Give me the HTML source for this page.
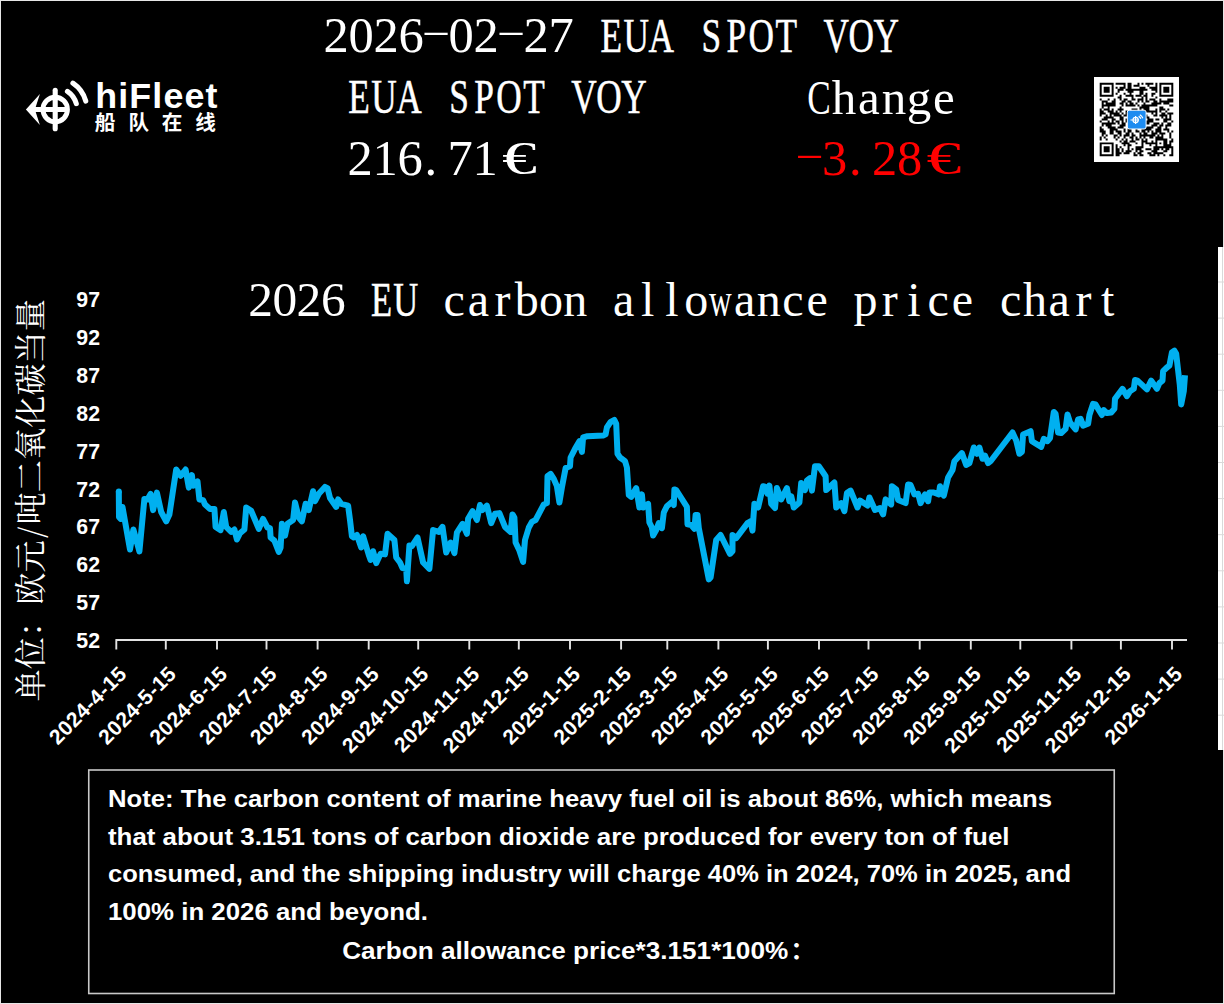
<!DOCTYPE html>
<html lang="en"><head><meta charset="utf-8"><title>EUA SPOT VOY - EU carbon allowance price chart</title>
<style>
html,body{margin:0;padding:0;background:#000;}
body{width:1224px;height:1004px;overflow:hidden;position:relative;}
svg{position:absolute;left:0;top:0;display:block;}
.sf{font-family:"Liberation Serif","Noto Serif CJK SC",serif;fill:#fff;}
.ss{font-family:"Liberation Sans","Noto Sans CJK SC",sans-serif;font-weight:bold;fill:#fff;}
.cj{font-family:"Noto Serif CJK SC","Liberation Serif",serif;fill:#fff;}
.cs{font-family:"Noto Sans CJK SC","Liberation Sans",sans-serif;font-weight:bold;fill:#fff;}
</style></head>
<body>
<svg width="1224" height="1004" viewBox="0 0 1224 1004">
<rect x="0" y="0" width="1224" height="1004" fill="#000"/>

<!-- frame -->
<path d="M0 0.5H1224M0.5 0V1004M0 1003.5H1224M1223.5 0V1004" stroke="#e6e6e6" stroke-width="1" fill="none"/>
<rect x="1218" y="247" width="6" height="503" fill="#fff"/>
<path d="M1218 282.0H1224M1218 318.1H1224M1218 354.2H1224M1218 390.3H1224M1218 426.4H1224M1218 462.5H1224M1218 498.6H1224M1218 534.7H1224M1218 570.8H1224M1218 606.9H1224M1218 643.0H1224M1218 679.1H1224M1218 715.2H1224M1222.5 247V750" stroke="#d9d9d9" stroke-width="1" fill="none"/>
<!-- header text -->
<text class="sf" font-size="50.5" y="52"><tspan x="323.6 348.6 373.6 398.6" y="52">2026</tspan><tspan x="421.4" y="41.4" font-size="30" textLength="29.6" lengthAdjust="spacingAndGlyphs">-</tspan><tspan x="448.6 473.6" y="52">02</tspan><tspan x="496.4" y="41.4" font-size="30" textLength="29.6" lengthAdjust="spacingAndGlyphs">-</tspan><tspan x="523.6 548.6" y="52">27</tspan></text>
<text class="sf" font-size="49" x="834.0 866.0 900.7" y="52" transform="scale(0.72,1)" stroke="#fff" stroke-width="0.45" vector-effect="non-scaling-stroke">EUA</text>
<text class="sf" font-size="49" x="974.2 1008.9 1039.6 1077.0" y="52" transform="scale(0.72,1)" stroke="#fff" stroke-width="0.45" vector-effect="non-scaling-stroke">SPOT</text>
<text class="sf" font-size="49" x="1143.8 1178.5 1213.2" y="52" transform="scale(0.72,1)" stroke="#fff" stroke-width="0.45" vector-effect="non-scaling-stroke">VOY</text>
<text class="sf" font-size="49" x="483.6 515.6 550.4" y="113.5" transform="scale(0.72,1)" stroke="#fff" stroke-width="0.45" vector-effect="non-scaling-stroke">EUA</text>
<text class="sf" font-size="49" x="623.9 658.6 689.3 726.7" y="113.5" transform="scale(0.72,1)" stroke="#fff" stroke-width="0.45" vector-effect="non-scaling-stroke">SPOT</text>
<text class="sf" font-size="49" x="793.4 828.1 862.9" y="113.5" transform="scale(0.72,1)" stroke="#fff" stroke-width="0.45" vector-effect="non-scaling-stroke">VOY</text>
<text class="sf" font-size="49" y="113.5"><tspan x="807.2" y="113.5" textLength="23.5" lengthAdjust="spacingAndGlyphs">C</tspan><tspan x="831.8 858.1 881.8 906.8 933.1" y="113.5">hange</tspan></text>
<text class="sf" font-size="50.5" y="175"><tspan x="347.4 372.4 397.4 424.5 447.4 472.4" y="175">216.71</tspan><tspan x="502.1" y="174.3" font-size="46.5" textLength="34.9" lengthAdjust="spacingAndGlyphs">€</tspan></text>
<text class="sf" font-size="50.5" y="175" style="fill:#ff0000"><tspan x="794.7" y="164.4" font-size="30" textLength="29.6" lengthAdjust="spacingAndGlyphs">-</tspan><tspan x="821.9 849.0 871.9 896.9" y="175">3.28</tspan><tspan x="926.6" y="174.3" font-size="46.5" textLength="34.9" lengthAdjust="spacingAndGlyphs">€</tspan></text>
<!-- chart title -->
<text class="sf" font-size="49.4" x="248.2 272.4 296.6 320.9" y="316">2026</text>
<text class="sf" font-size="48" x="515.3 546.3" y="316" transform="scale(0.72,1)" stroke="#fff" stroke-width="0.45" vector-effect="non-scaling-stroke">EU</text>
<text class="sf" font-size="48" x="443.5 467.7 494.6 514.8 539.0 563.2" y="316">carbon</text>
<text class="sf" font-size="48" y="316"><tspan x="612.9 641.1 665.3 684.2" y="316">allo</tspan><tspan x="709.0" y="316" textLength="22.7" lengthAdjust="spacingAndGlyphs">w</tspan><tspan x="733.9 756.8 782.3 806.5" y="316">ance</tspan></text>
<text class="sf" font-size="48" x="853.6 881.8 907.3 927.5 951.7" y="316">price</text>
<text class="sf" font-size="48" x="1000.1 1023.0 1048.5 1075.4 1100.9" y="316">chart</text>
<text class="cj" font-size="32.2" transform="translate(41.7,701.4) rotate(-90)" x="0.0 32.2 64.4 96.6 128.8 163.3 177.0 209.2 241.4 273.6 305.8 338.0 370.2" y="0">单位：欧元/吨二氧化碳当量</text>
<!-- y axis labels -->
<text class="ss" font-size="21.3" text-anchor="end" x="100" y="307.0">97</text>
<text class="ss" font-size="21.3" text-anchor="end" x="100" y="344.9">92</text>
<text class="ss" font-size="21.3" text-anchor="end" x="100" y="382.8">87</text>
<text class="ss" font-size="21.3" text-anchor="end" x="100" y="420.7">82</text>
<text class="ss" font-size="21.3" text-anchor="end" x="100" y="458.6">77</text>
<text class="ss" font-size="21.3" text-anchor="end" x="100" y="496.5">72</text>
<text class="ss" font-size="21.3" text-anchor="end" x="100" y="534.4">67</text>
<text class="ss" font-size="21.3" text-anchor="end" x="100" y="572.3">62</text>
<text class="ss" font-size="21.3" text-anchor="end" x="100" y="610.2">57</text>
<text class="ss" font-size="21.3" text-anchor="end" x="100" y="648.1">52</text>
<path d="M115.4 640H1187M116.3 640V649.6M165.8 640V649.6M217.0 640V649.6M266.5 640V649.6M317.6 640V649.6M368.7 640V649.6M418.2 640V649.6M469.3 640V649.6M518.8 640V649.6M570.0 640V649.6M621.1 640V649.6M667.3 640V649.6M718.4 640V649.6M767.9 640V649.6M819.0 640V649.6M868.5 640V649.6M919.7 640V649.6M970.8 640V649.6M1020.3 640V649.6M1071.4 640V649.6M1120.9 640V649.6M1172.0 640V649.6" stroke="#e2e2e2" stroke-width="1.9" fill="none"/>
<!-- x axis labels -->
<text class="ss" font-size="21" text-anchor="end" letter-spacing="0.45" transform="translate(128.2,675.2) rotate(-45)" x="0" y="0">2024-4-15</text>
<text class="ss" font-size="21" text-anchor="end" letter-spacing="0.45" transform="translate(177.6,675.2) rotate(-45)" x="0" y="0">2024-5-15</text>
<text class="ss" font-size="21" text-anchor="end" letter-spacing="0.45" transform="translate(228.8,675.2) rotate(-45)" x="0" y="0">2024-6-15</text>
<text class="ss" font-size="21" text-anchor="end" letter-spacing="0.45" transform="translate(278.3,675.2) rotate(-45)" x="0" y="0">2024-7-15</text>
<text class="ss" font-size="21" text-anchor="end" letter-spacing="0.45" transform="translate(329.4,675.2) rotate(-45)" x="0" y="0">2024-8-15</text>
<text class="ss" font-size="21" text-anchor="end" letter-spacing="0.45" transform="translate(380.5,675.2) rotate(-45)" x="0" y="0">2024-9-15</text>
<text class="ss" font-size="21" text-anchor="end" letter-spacing="0.45" transform="translate(430.0,675.2) rotate(-45)" x="0" y="0">2024-10-15</text>
<text class="ss" font-size="21" text-anchor="end" letter-spacing="0.45" transform="translate(481.1,675.2) rotate(-45)" x="0" y="0">2024-11-15</text>
<text class="ss" font-size="21" text-anchor="end" letter-spacing="0.45" transform="translate(530.6,675.2) rotate(-45)" x="0" y="0">2024-12-15</text>
<text class="ss" font-size="21" text-anchor="end" letter-spacing="0.45" transform="translate(581.8,675.2) rotate(-45)" x="0" y="0">2025-1-15</text>
<text class="ss" font-size="21" text-anchor="end" letter-spacing="0.45" transform="translate(632.9,675.2) rotate(-45)" x="0" y="0">2025-2-15</text>
<text class="ss" font-size="21" text-anchor="end" letter-spacing="0.45" transform="translate(679.1,675.2) rotate(-45)" x="0" y="0">2025-3-15</text>
<text class="ss" font-size="21" text-anchor="end" letter-spacing="0.45" transform="translate(730.2,675.2) rotate(-45)" x="0" y="0">2025-4-15</text>
<text class="ss" font-size="21" text-anchor="end" letter-spacing="0.45" transform="translate(779.7,675.2) rotate(-45)" x="0" y="0">2025-5-15</text>
<text class="ss" font-size="21" text-anchor="end" letter-spacing="0.45" transform="translate(830.8,675.2) rotate(-45)" x="0" y="0">2025-6-15</text>
<text class="ss" font-size="21" text-anchor="end" letter-spacing="0.45" transform="translate(880.3,675.2) rotate(-45)" x="0" y="0">2025-7-15</text>
<text class="ss" font-size="21" text-anchor="end" letter-spacing="0.45" transform="translate(931.5,675.2) rotate(-45)" x="0" y="0">2025-8-15</text>
<text class="ss" font-size="21" text-anchor="end" letter-spacing="0.45" transform="translate(982.6,675.2) rotate(-45)" x="0" y="0">2025-9-15</text>
<text class="ss" font-size="21" text-anchor="end" letter-spacing="0.45" transform="translate(1032.1,675.2) rotate(-45)" x="0" y="0">2025-10-15</text>
<text class="ss" font-size="21" text-anchor="end" letter-spacing="0.45" transform="translate(1083.2,675.2) rotate(-45)" x="0" y="0">2025-11-15</text>
<text class="ss" font-size="21" text-anchor="end" letter-spacing="0.45" transform="translate(1132.7,675.2) rotate(-45)" x="0" y="0">2025-12-15</text>
<text class="ss" font-size="21" text-anchor="end" letter-spacing="0.45" transform="translate(1183.8,675.2) rotate(-45)" x="0" y="0">2026-1-15</text>
<!-- series -->
<polyline points="118.8,491.4 119.0,517.0 120.6,518.9 122.5,507.0 130.0,549.5 133.4,529.5 139.4,551.4 144.4,498.9 147.5,499.5 150.6,493.9 153.1,510.1 156.9,492.6 161.2,512.0 166.2,521.4 169.4,514.5 176.2,469.5 180.6,475.8 185.6,469.5 188.8,487.6 191.9,475.1 193.1,485.8 197.5,481.4 199.4,499.5 203.1,500.1 205.0,504.5 210.0,508.9 214.4,508.9 215.6,527.0 220.6,530.1 223.8,512.0 226.2,527.0 231.2,532.0 234.4,529.5 236.9,539.5 240.0,533.2 244.4,529.5 246.2,507.6 251.2,510.8 258.8,528.9 263.0,518.9 267.5,527.5 270.0,528.1 270.6,537.5 274.4,540.6 278.8,551.9 280.6,547.5 281.9,523.8 285.0,535.6 287.5,523.8 293.1,520.0 295.0,502.5 298.8,517.5 301.9,521.2 305.6,503.8 308.8,510.0 313.1,491.2 315.0,501.2 318.8,493.8 325.0,486.9 327.5,488.1 330.0,498.1 336.2,506.9 338.1,499.4 341.2,503.8 348.1,505.6 350.0,520.0 351.9,536.2 353.8,537.5 356.9,535.0 361.2,547.5 363.1,536.2 368.8,555.0 370.6,560.0 373.1,551.2 376.2,563.1 380.6,553.8 385.0,554.4 387.5,533.8 394.4,540.0 396.2,557.5 400.0,562.5 402.5,568.1 406.2,568.8 406.9,581.2 409.4,545.6 411.9,546.2 417.5,537.5 423.1,562.5 429.4,568.8 433.1,530.0 438.8,531.9 442.5,526.9 446.2,552.5 450.6,542.5 454.4,553.1 456.9,532.5 462.5,523.8 466.9,533.8 468.1,518.8 472.5,511.2 476.9,520.0 480.0,505.0 482.5,510.0 486.9,505.6 491.2,523.1 495.0,513.8 499.4,513.1 505.0,526.9 510.6,531.9 512.5,514.4 514.4,517.5 515.6,542.5 519.4,550.6 523.1,561.9 525.0,540.0 528.8,527.5 531.9,521.9 535.6,520.0 543.8,504.4 546.9,503.1 547.5,476.2 550.6,473.8 553.8,478.8 556.9,486.2 559.4,502.5 561.9,487.5 565.6,468.1 570.0,466.2 570.6,457.5 575.0,448.8 579.4,441.2 581.9,451.9 583.1,437.5 587.5,436.2 603.1,435.6 605.6,434.4 606.9,427.5 610.6,421.9 614.4,420.0 616.2,423.8 617.5,453.8 620.0,457.5 625.0,461.2 626.9,467.5 628.8,495.0 631.2,496.9 636.2,488.1 639.4,507.5 641.9,494.4 643.1,507.5 648.1,503.8 649.4,522.5 651.9,527.5 653.1,535.6 656.2,530.0 658.8,523.1 661.9,528.1 663.8,512.5 666.9,506.2 671.9,501.9 673.8,505.0 674.4,489.4 676.2,490.0 686.9,506.9 687.5,524.4 691.2,525.0 694.4,528.8 695.6,515.0 697.5,515.0 698.8,528.1 708.8,579.4 710.6,577.5 716.2,540.0 720.6,535.0 730.0,553.8 732.5,551.2 732.5,535.0 736.2,538.1 747.5,523.1 750.6,521.2 752.5,530.6 754.4,503.8 758.1,507.5 763.1,486.2 765.6,486.9 767.5,493.8 769.4,485.6 771.2,503.8 775.0,508.1 776.9,488.1 781.2,499.4 786.9,488.1 789.4,501.2 791.2,496.2 793.8,507.5 799.4,502.5 801.2,483.1 805.0,490.0 806.9,480.6 810.0,478.1 811.9,490.6 815.0,466.2 818.8,466.2 823.1,472.5 825.6,476.2 826.2,490.0 834.4,482.5 836.2,507.5 841.2,503.1 844.4,511.2 846.9,493.1 850.6,490.6 857.5,507.5 860.0,500.6 867.5,505.6 869.4,497.5 875.0,510.0 880.0,508.1 883.1,514.4 885.6,499.4 891.2,504.4 891.9,486.2 896.2,489.4 898.1,500.0 905.6,503.1 908.1,484.4 910.6,485.0 914.4,494.4 918.1,493.8 920.6,503.1 925.0,494.4 928.1,501.2 929.4,492.5 933.8,492.5 938.8,494.4 940.0,486.2 943.8,495.6 948.1,477.5 952.5,470.0 954.4,461.2 961.9,453.1 966.2,465.0 969.4,463.1 973.8,447.5 976.9,453.8 979.4,447.5 982.5,458.8 985.0,455.6 988.1,463.1 990.6,461.2 1012.5,432.5 1016.2,440.6 1019.4,453.8 1021.9,451.9 1023.1,434.4 1030.6,431.2 1031.9,441.2 1041.2,446.9 1043.8,438.8 1047.5,441.2 1050.0,438.1 1053.8,411.9 1055.6,413.8 1058.1,432.5 1061.2,433.1 1065.6,428.8 1067.5,414.4 1070.0,422.5 1075.6,429.4 1078.1,419.4 1080.6,418.8 1083.1,425.6 1088.1,423.8 1089.4,415.0 1093.1,403.8 1095.6,404.4 1098.8,410.0 1101.9,415.0 1103.8,410.0 1106.9,413.1 1111.2,412.5 1114.4,408.8 1115.0,398.8 1122.5,388.8 1126.9,396.2 1130.0,391.2 1133.8,388.8 1135.0,380.0 1137.5,380.6 1146.9,389.4 1151.2,380.6 1156.9,388.8 1159.4,383.1 1162.5,380.6 1163.1,371.2 1166.9,367.5 1169.4,365.6 1171.9,352.5 1174.4,350.6 1176.2,353.8 1179.8,385.0 1181.2,404.4 1183.8,391.2 1185.0,375.2" fill="none" stroke="#00b0f0" stroke-width="6" stroke-linejoin="round" stroke-linecap="butt"/>
<circle cx="118.8" cy="491.4" r="3" fill="#00b0f0"/>
<!-- note -->
<rect x="88.75" y="770" width="1025.5" height="223.5" fill="none" stroke="#c8c8c8" stroke-width="1.6"/>
<text class="ss" font-size="24.8" x="108" y="806.75" textLength="944" lengthAdjust="spacingAndGlyphs">Note: The carbon content of marine heavy fuel oil is about 86%, which means</text>
<text class="ss" font-size="24.8" x="108" y="844.6" textLength="901.5" lengthAdjust="spacingAndGlyphs">that about 3.151 tons of carbon dioxide are produced for every ton of fuel</text>
<text class="ss" font-size="24.8" x="108" y="882.4" textLength="963" lengthAdjust="spacingAndGlyphs">consumed, and the shipping industry will charge 40% in 2024, 70% in 2025, and</text>
<text class="ss" font-size="24.8" x="108" y="920.3" textLength="320" lengthAdjust="spacingAndGlyphs">100% in 2026 and beyond.</text>
<text class="ss" font-size="24.8" x="342.2" y="958.5" textLength="446" lengthAdjust="spacingAndGlyphs">Carbon allowance price*3.151*100%</text>
<text class="cs" font-size="24" x="790.5" y="958.5">：</text>
<!-- logo -->
<g stroke="#fff" fill="none" stroke-linecap="round"><circle cx="55.2" cy="109.5" r="12.25" stroke-width="4.9"/><path d="M55.2 90.3V128.7" stroke-width="5.1"/><path d="M67.45 91.34A21.9 21.9 0 0 1 76.30 103.65M72.93 83.22A31.7 31.7 0 0 1 85.75 101.03" stroke-width="5.1"/><path d="M33 109.5H67" stroke-width="5.1" stroke-linecap="butt"/></g>
<path d="M25.9 109.5L39.9 93.9L35.7 107.0V112.0L39.9 125.1Z" fill="#fff"/>
<text class="ss" font-size="35.8" x="95.2" y="107.8" letter-spacing="1.15">hiFleet</text>
<text class="cs" font-size="20.6" x="94.7 128.6 161.8 195.2" y="130.2">船队在线</text>
<!-- qr -->
<rect x="1094" y="77" width="85" height="85" fill="#fff"/>
<path d="M1099.70 82.70h13.92v1.99h-13.92zM1115.61 82.70h9.95v1.99h-9.95zM1127.55 82.70h3.98v1.99h-3.98zM1137.49 82.70h1.99v1.99h-1.99zM1141.47 82.70h1.99v1.99h-1.99zM1145.45 82.70h7.96v1.99h-7.96zM1155.40 82.70h1.99v1.99h-1.99zM1159.38 82.70h13.92v1.99h-13.92zM1099.70 84.69h1.99v1.99h-1.99zM1111.64 84.69h1.99v1.99h-1.99zM1123.57 84.69h1.99v1.99h-1.99zM1127.55 84.69h3.98v1.99h-3.98zM1133.52 84.69h5.97v1.99h-5.97zM1147.44 84.69h1.99v1.99h-1.99zM1155.40 84.69h1.99v1.99h-1.99zM1159.38 84.69h1.99v1.99h-1.99zM1171.31 84.69h1.99v1.99h-1.99zM1099.70 86.68h1.99v1.99h-1.99zM1103.68 86.68h5.97v1.99h-5.97zM1111.64 86.68h1.99v1.99h-1.99zM1115.61 86.68h1.99v1.99h-1.99zM1119.59 86.68h5.97v1.99h-5.97zM1127.55 86.68h3.98v1.99h-3.98zM1139.48 86.68h5.97v1.99h-5.97zM1149.43 86.68h7.96v1.99h-7.96zM1159.38 86.68h1.99v1.99h-1.99zM1163.35 86.68h5.97v1.99h-5.97zM1171.31 86.68h1.99v1.99h-1.99zM1099.70 88.67h1.99v1.99h-1.99zM1103.68 88.67h5.97v1.99h-5.97zM1111.64 88.67h1.99v1.99h-1.99zM1117.60 88.67h5.97v1.99h-5.97zM1125.56 88.67h21.88v1.99h-21.88zM1151.42 88.67h5.97v1.99h-5.97zM1159.38 88.67h1.99v1.99h-1.99zM1163.35 88.67h5.97v1.99h-5.97zM1171.31 88.67h1.99v1.99h-1.99zM1099.70 90.66h1.99v1.99h-1.99zM1103.68 90.66h5.97v1.99h-5.97zM1111.64 90.66h1.99v1.99h-1.99zM1117.60 90.66h1.99v1.99h-1.99zM1127.55 90.66h5.97v1.99h-5.97zM1139.48 90.66h3.98v1.99h-3.98zM1155.40 90.66h1.99v1.99h-1.99zM1159.38 90.66h1.99v1.99h-1.99zM1163.35 90.66h5.97v1.99h-5.97zM1171.31 90.66h1.99v1.99h-1.99zM1099.70 92.65h1.99v1.99h-1.99zM1111.64 92.65h1.99v1.99h-1.99zM1115.61 92.65h1.99v1.99h-1.99zM1123.57 92.65h1.99v1.99h-1.99zM1129.54 92.65h1.99v1.99h-1.99zM1139.48 92.65h3.98v1.99h-3.98zM1145.45 92.65h1.99v1.99h-1.99zM1151.42 92.65h3.98v1.99h-3.98zM1159.38 92.65h1.99v1.99h-1.99zM1171.31 92.65h1.99v1.99h-1.99zM1099.70 94.64h13.92v1.99h-13.92zM1119.59 94.64h1.99v1.99h-1.99zM1125.56 94.64h7.96v1.99h-7.96zM1135.51 94.64h5.97v1.99h-5.97zM1143.46 94.64h3.98v1.99h-3.98zM1151.42 94.64h1.99v1.99h-1.99zM1159.38 94.64h13.92v1.99h-13.92zM1117.60 96.62h3.98v1.99h-3.98zM1131.53 96.62h1.99v1.99h-1.99zM1141.47 96.62h1.99v1.99h-1.99zM1145.45 96.62h1.99v1.99h-1.99zM1155.40 96.62h1.99v1.99h-1.99zM1099.70 98.61h1.99v1.99h-1.99zM1107.66 98.61h1.99v1.99h-1.99zM1113.62 98.61h1.99v1.99h-1.99zM1119.59 98.61h1.99v1.99h-1.99zM1123.57 98.61h3.98v1.99h-3.98zM1131.53 98.61h3.98v1.99h-3.98zM1137.49 98.61h5.97v1.99h-5.97zM1145.45 98.61h1.99v1.99h-1.99zM1149.43 98.61h5.97v1.99h-5.97zM1159.38 98.61h1.99v1.99h-1.99zM1167.33 98.61h5.97v1.99h-5.97zM1101.69 100.60h5.97v1.99h-5.97zM1111.64 100.60h3.98v1.99h-3.98zM1121.58 100.60h3.98v1.99h-3.98zM1127.55 100.60h3.98v1.99h-3.98zM1137.49 100.60h1.99v1.99h-1.99zM1141.47 100.60h1.99v1.99h-1.99zM1145.45 100.60h3.98v1.99h-3.98zM1153.41 100.60h3.98v1.99h-3.98zM1159.38 100.60h13.92v1.99h-13.92zM1101.69 102.59h1.99v1.99h-1.99zM1105.67 102.59h9.95v1.99h-9.95zM1119.59 102.59h3.98v1.99h-3.98zM1125.56 102.59h1.99v1.99h-1.99zM1129.54 102.59h3.98v1.99h-3.98zM1135.51 102.59h1.99v1.99h-1.99zM1143.46 102.59h1.99v1.99h-1.99zM1151.42 102.59h9.95v1.99h-9.95zM1163.35 102.59h5.97v1.99h-5.97zM1101.69 104.58h13.92v1.99h-13.92zM1121.58 104.58h1.99v1.99h-1.99zM1125.56 104.58h9.95v1.99h-9.95zM1137.49 104.58h1.99v1.99h-1.99zM1141.47 104.58h15.91v1.99h-15.91zM1169.32 104.58h3.98v1.99h-3.98zM1101.69 106.57h1.99v1.99h-1.99zM1107.66 106.57h1.99v1.99h-1.99zM1119.59 106.57h1.99v1.99h-1.99zM1139.48 106.57h9.95v1.99h-9.95zM1159.38 106.57h3.98v1.99h-3.98zM1099.70 108.56h1.99v1.99h-1.99zM1103.68 108.56h5.97v1.99h-5.97zM1111.64 108.56h1.99v1.99h-1.99zM1117.60 108.56h5.97v1.99h-5.97zM1131.53 108.56h5.97v1.99h-5.97zM1139.48 108.56h1.99v1.99h-1.99zM1143.46 108.56h5.97v1.99h-5.97zM1155.40 108.56h1.99v1.99h-1.99zM1159.38 108.56h5.97v1.99h-5.97zM1167.33 108.56h1.99v1.99h-1.99zM1099.70 110.55h3.98v1.99h-3.98zM1107.66 110.55h5.97v1.99h-5.97zM1115.61 110.55h1.99v1.99h-1.99zM1119.59 110.55h1.99v1.99h-1.99zM1125.56 110.55h1.99v1.99h-1.99zM1135.51 110.55h1.99v1.99h-1.99zM1139.48 110.55h17.90v1.99h-17.90zM1159.38 110.55h1.99v1.99h-1.99zM1165.34 110.55h1.99v1.99h-1.99zM1099.70 112.54h5.97v1.99h-5.97zM1109.65 112.54h9.95v1.99h-9.95zM1121.58 112.54h1.99v1.99h-1.99zM1125.56 112.54h3.98v1.99h-3.98zM1131.53 112.54h3.98v1.99h-3.98zM1151.42 112.54h1.99v1.99h-1.99zM1155.40 112.54h1.99v1.99h-1.99zM1161.36 112.54h3.98v1.99h-3.98zM1167.33 112.54h5.97v1.99h-5.97zM1099.70 114.53h1.99v1.99h-1.99zM1105.67 114.53h1.99v1.99h-1.99zM1109.65 114.53h1.99v1.99h-1.99zM1113.62 114.53h7.96v1.99h-7.96zM1123.57 114.53h3.98v1.99h-3.98zM1131.53 114.53h15.91v1.99h-15.91zM1153.41 114.53h3.98v1.99h-3.98zM1159.38 114.53h7.96v1.99h-7.96zM1169.32 114.53h1.99v1.99h-1.99zM1103.68 116.52h9.95v1.99h-9.95zM1119.59 116.52h3.98v1.99h-3.98zM1127.55 116.52h1.99v1.99h-1.99zM1131.53 116.52h3.98v1.99h-3.98zM1143.46 116.52h5.97v1.99h-5.97zM1161.36 116.52h1.99v1.99h-1.99zM1165.34 116.52h1.99v1.99h-1.99zM1169.32 116.52h1.99v1.99h-1.99zM1101.69 118.51h5.97v1.99h-5.97zM1111.64 118.51h3.98v1.99h-3.98zM1119.59 118.51h3.98v1.99h-3.98zM1125.56 118.51h5.97v1.99h-5.97zM1137.49 118.51h5.97v1.99h-5.97zM1147.44 118.51h5.97v1.99h-5.97zM1155.40 118.51h3.98v1.99h-3.98zM1163.35 118.51h7.96v1.99h-7.96zM1099.70 120.49h1.99v1.99h-1.99zM1107.66 120.49h1.99v1.99h-1.99zM1111.64 120.49h1.99v1.99h-1.99zM1115.61 120.49h3.98v1.99h-3.98zM1121.58 120.49h1.99v1.99h-1.99zM1125.56 120.49h7.96v1.99h-7.96zM1137.49 120.49h5.97v1.99h-5.97zM1145.45 120.49h7.96v1.99h-7.96zM1163.35 120.49h3.98v1.99h-3.98zM1171.31 120.49h1.99v1.99h-1.99zM1101.69 122.48h13.92v1.99h-13.92zM1117.60 122.48h1.99v1.99h-1.99zM1121.58 122.48h3.98v1.99h-3.98zM1129.54 122.48h7.96v1.99h-7.96zM1139.48 122.48h3.98v1.99h-3.98zM1145.45 122.48h3.98v1.99h-3.98zM1153.41 122.48h5.97v1.99h-5.97zM1161.36 122.48h1.99v1.99h-1.99zM1167.33 122.48h3.98v1.99h-3.98zM1101.69 124.47h1.99v1.99h-1.99zM1105.67 124.47h5.97v1.99h-5.97zM1119.59 124.47h5.97v1.99h-5.97zM1129.54 124.47h7.96v1.99h-7.96zM1139.48 124.47h1.99v1.99h-1.99zM1151.42 124.47h5.97v1.99h-5.97zM1159.38 124.47h3.98v1.99h-3.98zM1165.34 124.47h5.97v1.99h-5.97zM1099.70 126.46h1.99v1.99h-1.99zM1107.66 126.46h7.96v1.99h-7.96zM1117.60 126.46h5.97v1.99h-5.97zM1133.52 126.46h1.99v1.99h-1.99zM1137.49 126.46h1.99v1.99h-1.99zM1141.47 126.46h1.99v1.99h-1.99zM1145.45 126.46h7.96v1.99h-7.96zM1157.39 126.46h3.98v1.99h-3.98zM1165.34 126.46h1.99v1.99h-1.99zM1099.70 128.45h3.98v1.99h-3.98zM1109.65 128.45h7.96v1.99h-7.96zM1123.57 128.45h1.99v1.99h-1.99zM1127.55 128.45h3.98v1.99h-3.98zM1135.51 128.45h1.99v1.99h-1.99zM1141.47 128.45h9.95v1.99h-9.95zM1155.40 128.45h5.97v1.99h-5.97zM1163.35 128.45h5.97v1.99h-5.97zM1099.70 130.44h5.97v1.99h-5.97zM1109.65 130.44h3.98v1.99h-3.98zM1115.61 130.44h5.97v1.99h-5.97zM1123.57 130.44h1.99v1.99h-1.99zM1127.55 130.44h3.98v1.99h-3.98zM1135.51 130.44h3.98v1.99h-3.98zM1141.47 130.44h3.98v1.99h-3.98zM1147.44 130.44h1.99v1.99h-1.99zM1151.42 130.44h1.99v1.99h-1.99zM1155.40 130.44h5.97v1.99h-5.97zM1167.33 130.44h1.99v1.99h-1.99zM1171.31 130.44h1.99v1.99h-1.99zM1101.69 132.43h3.98v1.99h-3.98zM1109.65 132.43h3.98v1.99h-3.98zM1117.60 132.43h3.98v1.99h-3.98zM1125.56 132.43h3.98v1.99h-3.98zM1131.53 132.43h1.99v1.99h-1.99zM1139.48 132.43h1.99v1.99h-1.99zM1143.46 132.43h3.98v1.99h-3.98zM1151.42 132.43h5.97v1.99h-5.97zM1159.38 132.43h5.97v1.99h-5.97zM1169.32 132.43h1.99v1.99h-1.99zM1101.69 134.42h1.99v1.99h-1.99zM1105.67 134.42h1.99v1.99h-1.99zM1113.62 134.42h3.98v1.99h-3.98zM1119.59 134.42h1.99v1.99h-1.99zM1123.57 134.42h5.97v1.99h-5.97zM1131.53 134.42h3.98v1.99h-3.98zM1139.48 134.42h15.91v1.99h-15.91zM1157.39 134.42h1.99v1.99h-1.99zM1161.36 134.42h1.99v1.99h-1.99zM1169.32 134.42h1.99v1.99h-1.99zM1099.70 136.41h1.99v1.99h-1.99zM1103.68 136.41h1.99v1.99h-1.99zM1113.62 136.41h1.99v1.99h-1.99zM1117.60 136.41h1.99v1.99h-1.99zM1123.57 136.41h1.99v1.99h-1.99zM1129.54 136.41h3.98v1.99h-3.98zM1135.51 136.41h1.99v1.99h-1.99zM1139.48 136.41h1.99v1.99h-1.99zM1143.46 136.41h1.99v1.99h-1.99zM1149.43 136.41h3.98v1.99h-3.98zM1155.40 136.41h7.96v1.99h-7.96zM1169.32 136.41h1.99v1.99h-1.99zM1099.70 138.40h1.99v1.99h-1.99zM1105.67 138.40h1.99v1.99h-1.99zM1115.61 138.40h1.99v1.99h-1.99zM1121.58 138.40h1.99v1.99h-1.99zM1125.56 138.40h1.99v1.99h-1.99zM1131.53 138.40h1.99v1.99h-1.99zM1135.51 138.40h3.98v1.99h-3.98zM1141.47 138.40h1.99v1.99h-1.99zM1145.45 138.40h1.99v1.99h-1.99zM1155.40 138.40h11.94v1.99h-11.94zM1171.31 138.40h1.99v1.99h-1.99zM1119.59 140.39h1.99v1.99h-1.99zM1123.57 140.39h3.98v1.99h-3.98zM1129.54 140.39h5.97v1.99h-5.97zM1141.47 140.39h5.97v1.99h-5.97zM1151.42 140.39h1.99v1.99h-1.99zM1155.40 140.39h1.99v1.99h-1.99zM1163.35 140.39h3.98v1.99h-3.98zM1169.32 140.39h3.98v1.99h-3.98zM1099.70 142.38h13.92v1.99h-13.92zM1121.58 142.38h7.96v1.99h-7.96zM1135.51 142.38h1.99v1.99h-1.99zM1141.47 142.38h1.99v1.99h-1.99zM1145.45 142.38h11.94v1.99h-11.94zM1159.38 142.38h1.99v1.99h-1.99zM1163.35 142.38h3.98v1.99h-3.98zM1169.32 142.38h1.99v1.99h-1.99zM1099.70 144.36h1.99v1.99h-1.99zM1111.64 144.36h1.99v1.99h-1.99zM1115.61 144.36h1.99v1.99h-1.99zM1123.57 144.36h1.99v1.99h-1.99zM1127.55 144.36h3.98v1.99h-3.98zM1141.47 144.36h1.99v1.99h-1.99zM1149.43 144.36h1.99v1.99h-1.99zM1155.40 144.36h1.99v1.99h-1.99zM1163.35 144.36h7.96v1.99h-7.96zM1099.70 146.35h1.99v1.99h-1.99zM1103.68 146.35h5.97v1.99h-5.97zM1111.64 146.35h1.99v1.99h-1.99zM1115.61 146.35h1.99v1.99h-1.99zM1119.59 146.35h1.99v1.99h-1.99zM1127.55 146.35h1.99v1.99h-1.99zM1135.51 146.35h7.96v1.99h-7.96zM1153.41 146.35h19.89v1.99h-19.89zM1099.70 148.34h1.99v1.99h-1.99zM1103.68 148.34h5.97v1.99h-5.97zM1111.64 148.34h1.99v1.99h-1.99zM1115.61 148.34h3.98v1.99h-3.98zM1121.58 148.34h1.99v1.99h-1.99zM1127.55 148.34h1.99v1.99h-1.99zM1131.53 148.34h1.99v1.99h-1.99zM1135.51 148.34h5.97v1.99h-5.97zM1145.45 148.34h5.97v1.99h-5.97zM1153.41 148.34h5.97v1.99h-5.97zM1161.36 148.34h1.99v1.99h-1.99zM1165.34 148.34h3.98v1.99h-3.98zM1171.31 148.34h1.99v1.99h-1.99zM1099.70 150.33h1.99v1.99h-1.99zM1103.68 150.33h5.97v1.99h-5.97zM1111.64 150.33h1.99v1.99h-1.99zM1115.61 150.33h3.98v1.99h-3.98zM1121.58 150.33h1.99v1.99h-1.99zM1125.56 150.33h5.97v1.99h-5.97zM1135.51 150.33h1.99v1.99h-1.99zM1139.48 150.33h3.98v1.99h-3.98zM1151.42 150.33h5.97v1.99h-5.97zM1163.35 150.33h3.98v1.99h-3.98zM1171.31 150.33h1.99v1.99h-1.99zM1099.70 152.32h1.99v1.99h-1.99zM1111.64 152.32h1.99v1.99h-1.99zM1115.61 152.32h5.97v1.99h-5.97zM1123.57 152.32h5.97v1.99h-5.97zM1133.52 152.32h1.99v1.99h-1.99zM1137.49 152.32h3.98v1.99h-3.98zM1147.44 152.32h3.98v1.99h-3.98zM1153.41 152.32h9.95v1.99h-9.95zM1171.31 152.32h1.99v1.99h-1.99zM1099.70 154.31h13.92v1.99h-13.92zM1115.61 154.31h3.98v1.99h-3.98zM1133.52 154.31h3.98v1.99h-3.98zM1139.48 154.31h3.98v1.99h-3.98zM1149.43 154.31h5.97v1.99h-5.97zM1157.39 154.31h1.99v1.99h-1.99zM1163.35 154.31h1.99v1.99h-1.99zM1169.32 154.31h3.98v1.99h-3.98z" fill="#000"/>
<rect x="1127.3" y="110.2" width="18.8" height="18.8" rx="2" fill="#1e8cf0" stroke="#fff" stroke-width="1"/>
<g stroke="#fff" fill="none" stroke-width="1.2"><circle cx="1135.6" cy="120" r="2.6"/><path d="M1135.6 116V124M1130.5 120H1139M1138.6 116.4A4.6 4.6 0 0 1 1140.8 118.8M1139.8 114.8A6.8 6.8 0 0 1 1142.8 118.2"/></g>
</svg>
</body></html>
